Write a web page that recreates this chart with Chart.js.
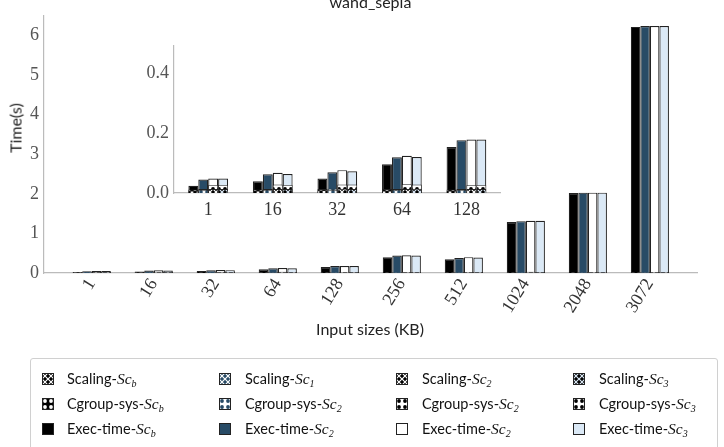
<!DOCTYPE html>
<html><head><meta charset="utf-8">
<script src="https://cdn.jsdelivr.net/npm/chart.js@4.4.1/dist/chart.umd.min.js"></script>
<style>
body{margin:0;background:#fff;width:724px;height:447px;overflow:hidden;position:relative;font-family:'Lato',sans-serif;}
canvas{position:absolute;}
#main{left:0;top:0;}
#inset{left:120px;top:30px;}
.ttl{position:absolute;top:-6px;left:0;width:741px;text-align:center;font-size:16px;color:#222;line-height:16px;}
.ylab{position:absolute;left:15px;top:128px;transform:translate(-50%,-50%) rotate(-90deg);font-size:16px;color:#222;white-space:nowrap;}
.xlab{position:absolute;left:370px;top:328px;transform:translate(-50%,-50%);font-size:16px;color:#222;white-space:nowrap;}
#legend{position:absolute;left:30px;top:358px;width:688px;height:100px;border:1px solid #d0d0d0;border-radius:3px;box-sizing:border-box;}
.it{position:absolute;font-size:14.5px;color:#111;white-space:nowrap;transform:translateY(-50%);}
.m{font-family:'Liberation Serif',serif;font-style:italic;font-size:15.5px;}
.m sub{font-size:10px;vertical-align:-3px;line-height:0;}
.ic{position:absolute;width:12px;height:12px;transform:translateY(-50%);}
</style></head>
<body>
<canvas id="main" width="724" height="447"></canvas>
<canvas id="inset" width="400" height="200"></canvas>
<div class="ttl">wand_sepia</div>
<div class="ylab">Time(s)</div>
<div class="xlab">Input sizes (KB)</div>
<div id="legend"></div>
<script>
// ---- data ----
const categories = ['1','16','32','64','128','256','512','1024','2048','3072'];
const insetCount = 5;
const yTicksMain = [0,1,2,3,4,5,6];
const yTicksInset = [0,0.2,0.4];
const execSc_b = [0.024,0.039,0.048,0.096,0.153,0.40,0.35,1.29,2.02,6.22];
const execSc_1 = [0.045,0.062,0.069,0.119,0.176,0.44,0.38,1.31,2.03,6.24];
const execSc_2 = [0.048,0.067,0.076,0.124,0.178,0.45,0.40,1.32,2.03,6.24];
const execSc_3 = [0.048,0.063,0.072,0.120,0.178,0.44,0.39,1.32,2.03,6.24];
const cgroupSc_b = [0.012,0.012,0.013,0.013,0.012,0.013,0.012,0.013,0.013,0.012];
const cgroupSc_1 = [0.013,0.013,0.014,0.013,0.013,0.014,0.013,0.013,0.014,0.013];
const cgroupSc_2 = [0.027,0.028,0.028,0.029,0.027,0.028,0.028,0.029,0.028,0.028];
const cgroupSc_3 = [0.027,0.027,0.028,0.028,0.027,0.028,0.027,0.028,0.028,0.028];
const scalingSc_b = [0.008,0.008,0.009,0.008,0.008,0.009,0.008,0.008,0.009,0.008];
const scalingSc_1 = [0.009,0.009,0.009,0.010,0.009,0.009,0.010,0.009,0.009,0.010];
const scalingSc_2 = [0.013,0.013,0.014,0.013,0.013,0.014,0.013,0.013,0.014,0.013];
const scalingSc_3 = [0.013,0.013,0.013,0.014,0.013,0.013,0.014,0.013,0.013,0.014];
const legendLabels = [
  ['Scaling-','Sc','b'],['Scaling-','Sc','1'],['Scaling-','Sc','2'],['Scaling-','Sc','3'],
  ['Cgroup-sys-','Sc','b'],['Cgroup-sys-','Sc','2'],['Cgroup-sys-','Sc','2'],['Cgroup-sys-','Sc','3'],
  ['Exec-time-','Sc','b'],['Exec-time-','Sc','2'],['Exec-time-','Sc','2'],['Exec-time-','Sc','3']
];

// ---- styles ----
const colors = ['#000000','#284b66','#ffffff','#dbe9f6'];
const edge = '#222222';
function pattern(kind,bg,fg){
  const c=document.createElement('canvas');c.width=c.height=6;
  const g=c.getContext('2d');g.fillStyle=bg;g.fillRect(0,0,6,6);
  g.strokeStyle=fg;g.fillStyle=fg;g.lineWidth=1.2;
  if(kind==='x'){g.beginPath();g.moveTo(0,0);g.lineTo(6,6);g.moveTo(6,0);g.lineTo(0,6);g.stroke();}
  else{g.beginPath();g.arc(3,3,1.9,0,Math.PI*2);g.fill();}
  return g.createPattern(c,'repeat');
}
const scalPat=[pattern('x','#000','#fff'),pattern('x','#284b66','#fff'),pattern('x','#000','#fff'),pattern('x','#000','#dbe9f6')];
const cgPat=[pattern('o','#000','#fff'),pattern('o','#fff','#284b66'),pattern('o','#fff','#000'),pattern('o','#fff','#000')];

function buildDatasets(n){
  const ex=[execSc_b,execSc_1,execSc_2,execSc_3];
  const cg=[cgroupSc_b,cgroupSc_1,cgroupSc_2,cgroupSc_3];
  const sc=[scalingSc_b,scalingSc_1,scalingSc_2,scalingSc_3];
  const pts=a=>a.slice(0,n).map((v,i)=>({x:i,y:v}));
  const out=[];
  for(let k=0;k<4;k++) out.push({label:'Scaling'+k,data:pts(sc[k]),stack:'s'+k,backgroundColor:scalPat[k],borderColor:edge,borderWidth:0.8,order:0});
  for(let k=0;k<4;k++) out.push({label:'Cgroup'+k,data:pts(cg[k]),stack:'s'+k,backgroundColor:cgPat[k],borderColor:edge,borderWidth:0.8,order:1});
  for(let k=0;k<4;k++) out.push({label:'Exec'+k,data:pts(ex[k]),stack:'s'+k,backgroundColor:colors[k],borderColor:edge,borderWidth:1.2,order:2});
  return out;
}
const serif={family:"'Liberation Serif', serif",size:18};
function makeChart(id,n,labels,xmin,xmax,ymax,yticks,yfmt,rot,yw,xh,pad,xpad){
  return new Chart(document.getElementById(id),{
    type:'bar',
    data:{datasets:buildDatasets(n)},
    options:{
      responsive:false,animation:false,devicePixelRatio:1,
      layout:{padding:pad},
      plugins:{legend:{display:false},tooltip:{enabled:false},title:{display:false}},
      datasets:{bar:{categoryPercentage:0.615,barPercentage:1}},
      scales:{
        x:{type:'linear',offset:false,min:xmin,max:xmax,
          afterBuildTicks:s=>{s.ticks=labels.map((_,i)=>({value:i}));},
          afterFit:s=>{s.height=xh;},
          ticks:{callback:v=>labels[v],minRotation:rot,maxRotation:rot,autoSkip:false,font:serif,color:'#333',padding:xpad},
          grid:{display:false,drawTicks:false},border:{display:true,color:'#bbb',width:1.2}},
        y:{stacked:false,min:0,max:ymax,
          afterBuildTicks:s=>{s.ticks=yticks.map(v=>({value:v}));},
          afterFit:s=>{s.width=yw;},
          ticks:{callback:yfmt,font:serif,color:'#555',padding:5},
          grid:{display:false,drawTicks:false},border:{display:true,color:'#bbb',width:1.2}}
      }
    }
  });
}
makeChart('main',categories.length,categories,-0.77,9.76,6.5,yTicksMain,v=>String(v),58,44,60,{left:0,top:15,right:27,bottom:114},2);
makeChart('inset',insetCount,categories.slice(0,insetCount),-0.53,4.52,0.49,yTicksInset,v=>v.toFixed(1),0,54,30,{left:0,top:15,right:20,bottom:7},6);

// ---- legend ----
const lg=document.getElementById('legend');
const iconX=[11,188,365,542], textX=[36,214,391,568], rowY=[20,45,70];
legendLabels.forEach((l,idx)=>{
  const r=Math.floor(idx/4), c=idx%4;
  const ic=document.createElement('canvas');ic.width=12;ic.height=12;ic.className='ic';
  ic.style.left=iconX[c]+'px';ic.style.top=rowY[r]+'px';ic.style.position='absolute';
  const g=ic.getContext('2d');
  g.fillStyle=r===0?scalPat[c]:r===1?cgPat[c]:colors[c];g.fillRect(0,0,12,12);
  g.strokeStyle=edge;g.lineWidth=1;g.strokeRect(0.5,0.5,11,11);
  lg.appendChild(ic);
  const t=document.createElement('div');t.className='it';
  t.style.left=textX[c]+'px';t.style.top=rowY[r]+'px';
  t.innerHTML=l[0]+'<span class="m">'+l[1]+'<sub>'+l[2]+'</sub></span>';
  lg.appendChild(t);
});
</script>
</body></html>
